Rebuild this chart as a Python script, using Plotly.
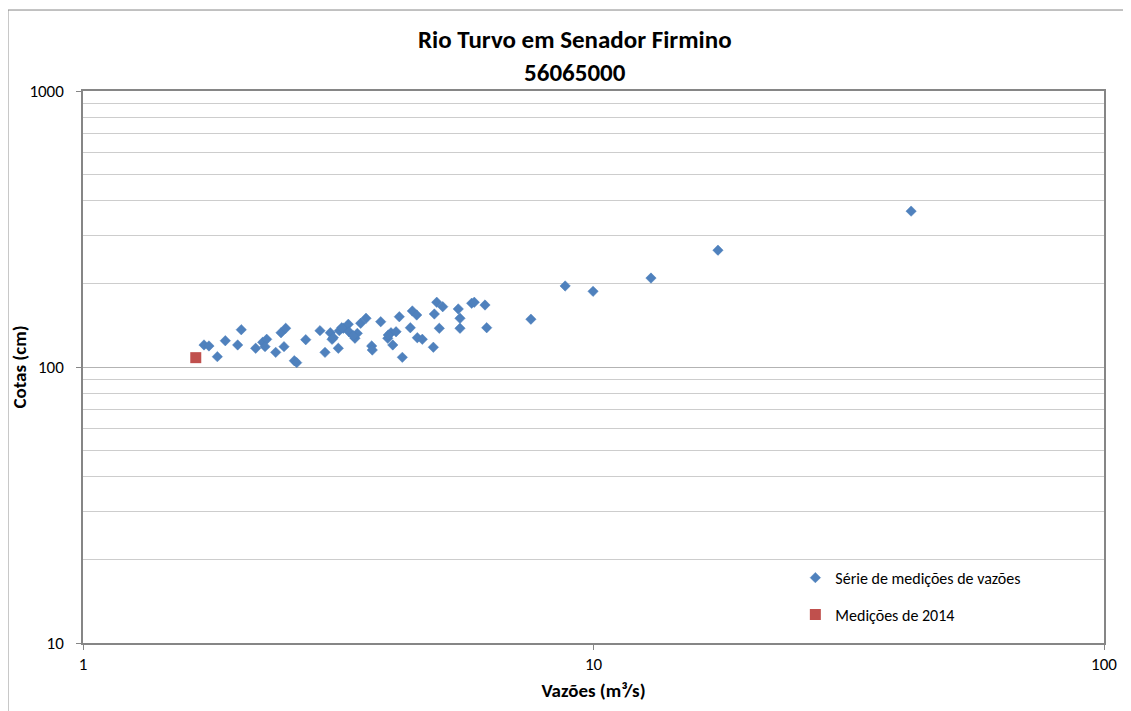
import plotly.graph_objects as go

# Série de medições de vazões (Q em m³/s, cota em cm)
serie_vazao = [1.726, 1.765, 1.833, 1.900, 2.009, 2.042, 2.179, 2.249, 2.290, 2.273,
               2.385, 2.443, 2.495, 2.476, 2.594, 2.622, 2.731, 2.912, 2.979, 3.051,
               3.075, 3.163, 3.177, 3.235, 3.309, 3.319, 3.410, 3.446, 3.499, 3.584,
               3.677, 3.687, 3.830, 3.954, 4.012, 4.044, 4.104, 4.165, 4.222, 4.377,
               4.417, 4.505, 4.517, 4.620, 4.856, 4.878, 4.931, 5.066, 4.988, 5.434,
               5.476, 5.476, 5.772, 5.841, 6.130, 6.177, 3.093, 3.212, 3.384, 3.963,
               7.54, 8.80, 9.98, 12.96, 17.53, 41.9]
serie_cota = [120.2, 119.2, 109.0, 124.5, 120.2, 136.5, 116.9, 122.9, 126.0, 118.5,
              113.0, 133.1, 138.1, 118.5, 105.4, 103.7, 125.6, 135.4, 113.0, 133.1,
              126.0, 116.9, 135.4, 138.1, 142.8, 134.2, 127.1, 132.4, 144.0, 150.1,
              119.2, 115.2, 145.9, 127.1, 133.1, 120.2, 134.2, 152.1, 108.4, 138.8,
              159.6, 154.3, 127.7, 126.0, 117.9, 155.6, 171.6, 165.4, 138.1, 162.3,
              150.1, 138.1, 170.2, 171.6, 167.7, 138.8, 127.7, 138.8, 129.8, 130.6,
              149.0, 196.6, 188.0, 210.0, 265.0, 367.0]

# Medições de 2014
med2014_vazao = [1.663]
med2014_cota = [108.1]

TITLE = "<b>Rio Turvo em Senador Firmino<br>56065000</b>"
FONT = "Carlito, Lato, 'Liberation Sans', sans-serif"

fig = go.Figure()
fig.add_trace(go.Scatter(
    x=serie_vazao, y=serie_cota, mode="markers",
    name="Série de medições de vazões", legendgroup="a",
    marker=dict(symbol="diamond", size=8, color="#4F81BD",
                line=dict(width=0.5, color="#4A7EBB")),
))
fig.add_trace(go.Scatter(
    x=med2014_vazao, y=med2014_cota, mode="markers",
    name="Medições de 2014", legendgroup="b",
    marker=dict(symbol="square", size=11, color="#C0504D",
                line=dict(width=0)),
))

# page body has an 8px margin, so the figure is drawn 8px smaller and offset
fig.update_layout(
    width=1123, height=703,
    margin=dict(l=75, r=27, t=83, b=68),
    paper_bgcolor="white", plot_bgcolor="white",
    font=dict(family=FONT, size=16, color="#000000"),
    legend=dict(x=0.6977, y=0.149, xanchor="left", yanchor="top",
                bgcolor="rgba(0,0,0,0)", font=dict(size=16),
                tracegroupgap=13, itemsizing="trace", itemwidth=30),
    xaxis=dict(
        type="log", range=[0, 2], tickvals=[1, 10, 100], ticktext=["1", "10", "100"],
        showgrid=False, zeroline=False, showline=True, linecolor="#868686",
        linewidth=1.5, mirror=True, ticks="outside", ticklen=5,
        tickcolor="#868686", tickfont=dict(size=17), automargin=False,
        title=dict(text="<b>Vazões (m³/s)</b>", font=dict(size=19), standoff=10),
    ),
    yaxis=dict(
        type="log", range=[1, 3], tickvals=[10, 100, 1000],
        ticktext=["10", "100", "1000"],
        showgrid=True, gridcolor="#B3B3B3", gridwidth=1,
        minor=dict(showgrid=True, gridcolor="#CDCDCD", gridwidth=1,
                   dtick="D1", ticks=""),
        zeroline=False, showline=True, linecolor="#868686",
        linewidth=1.5, mirror=True, ticks="outside", ticklen=5,
        tickcolor="#868686", tickfont=dict(size=17), ticklabelstandoff=9,
        automargin=False,
        title=dict(text="<b>Cotas (cm)</b>", font=dict(size=19), standoff=0),
    ),
    annotations=[dict(text=TITLE, xref="paper", yref="paper",
                      x=0.4819, y=1.064, xanchor="center", yanchor="middle",
                      showarrow=False, font=dict(size=25, family=FONT))],
    shapes=[dict(type="rect", xref="paper", yref="paper",
                 x0=-0.0735, x1=1.04, y0=-0.14, y1=1.1467,
                 line=dict(color="#868686", width=1), layer="below")],
)

fig.write_html("out.html")
